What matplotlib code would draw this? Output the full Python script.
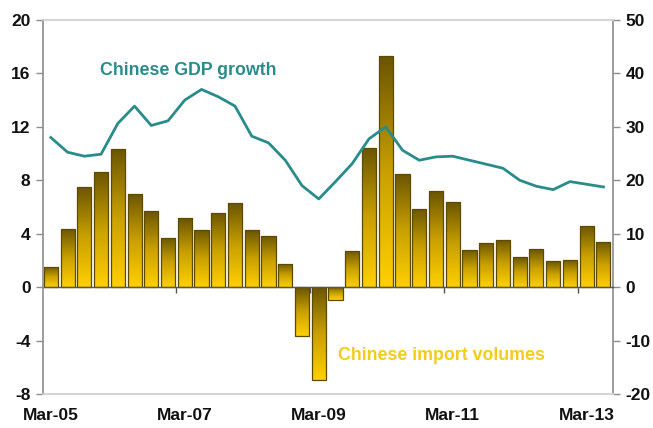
import numpy as np
import matplotlib
matplotlib.use("Agg")
import matplotlib.pyplot as plt
from matplotlib.colors import LinearSegmentedColormap

plt.rcParams['font.family'] = ['Liberation Sans', 'DejaVu Sans']
plt.rcParams['font.weight'] = 'bold'
plt.rcParams['axes.unicode_minus'] = False

# Quarterly data, Mar-05 .. Jun-13
quarters = ["Mar-05", "Jun-05", "Sep-05", "Dec-05",
            "Mar-06", "Jun-06", "Sep-06", "Dec-06",
            "Mar-07", "Jun-07", "Sep-07", "Dec-07",
            "Mar-08", "Jun-08", "Sep-08", "Dec-08",
            "Mar-09", "Jun-09", "Sep-09", "Dec-09",
            "Mar-10", "Jun-10", "Sep-10", "Dec-10",
            "Mar-11", "Jun-11", "Sep-11", "Dec-11",
            "Mar-12", "Jun-12", "Sep-12", "Dec-12",
            "Mar-13", "Jun-13"]

# Chinese real GDP growth, % y/y (left axis)
gdp_growth = [11.2, 10.1, 9.8, 9.95, 12.25, 13.55, 12.1, 12.45,
              14.0, 14.8, 14.25, 13.55, 11.3, 10.8, 9.5, 7.6,
              6.6, 7.9, 9.25, 11.1, 12.0, 10.25, 9.5, 9.75,
              9.8, 9.5, 9.2, 8.9, 8.0, 7.55, 7.3, 7.9,
              7.7, 7.5]

# Chinese import volumes, % y/y (right axis)
import_volumes = [3.75, 10.9, 18.75, 21.6, 25.9, 17.5, 14.2, 9.2,
                  12.9, 10.75, 13.9, 15.7, 10.6, 9.6, 4.4, -9.1,
                  -17.3, -2.5, 6.8, 26.1, 43.2, 21.2, 14.7, 17.9,
                  15.9, 7.0, 8.3, 8.8, 5.6, 7.1, 4.8, 5.1,
                  11.5, 8.5]

x_labels = ["Mar-05", "Mar-07", "Mar-09", "Mar-11", "Mar-13"]

x = np.arange(len(quarters))
label_pos = [quarters.index(q) for q in x_labels]

fig = plt.figure(figsize=(6.53, 4.28), dpi=100)
ax = fig.add_axes([0.066, 0.0794, 0.873, 0.874])
ax2 = ax.twinx()

# line axis drawn above the bar axis
ax.set_zorder(ax2.get_zorder() + 1)
ax.patch.set_visible(False)

light = "#d4d4d4"
mid = "#8c8c8c"

# Bars with a vertical dark-to-gold gradient
cmap = LinearSegmentedColormap.from_list("gold", ["#6a5500", "#c9a000", "#ffd000"])
grad = np.linspace(0, 1, 256).reshape(-1, 1)
bars = ax2.bar(x, import_volumes, width=0.84, facecolor="none",
               edgecolor="#5c4a00", linewidth=0.9, zorder=3)
for b in bars:
    x0, y0 = b.get_x(), b.get_y()
    w, h = b.get_width(), b.get_height()
    top, bot = max(y0, y0 + h), min(y0, y0 + h)
    im = ax2.imshow(grad, cmap=cmap, aspect="auto", origin="upper",
                    extent=[x0, x0 + w, bot, top], zorder=2)
    im.set_clip_path(b)

ax2.set_ylim(-20, 50)
ax2.set_yticks(np.arange(-20, 51, 10))

# GDP line
ax.plot(x, gdp_growth, color="#2a8c8a", linewidth=2.0, zorder=5)
ax.set_ylim(-8, 20)
ax.set_yticks(np.arange(-8, 21, 4))
ax.set_xlim(-0.46, 33.58)
ax2.set_xlim(-0.46, 33.58)

ax.set_xticks(label_pos)
ax.set_xticklabels(x_labels)
ax.tick_params(axis="x", length=0, pad=10, labelsize=12.5, labelcolor="#111111")
ax.tick_params(axis="y", direction="out", length=5, width=1, color=mid,
               labelsize=12.5, labelcolor="#111111", pad=4)
ax2.tick_params(axis="y", direction="out", length=5, width=1, color=mid,
                labelsize=12.5, labelcolor="#111111", pad=4)

for a in (ax, ax2):
    a.spines["top"].set_color(light)
    a.spines["bottom"].set_color(light)
    a.spines["left"].set_color(mid)
    a.spines["right"].set_color(mid)
    for s in a.spines.values():
        s.set_linewidth(1.2)
ax2.spines["left"].set_visible(False)
ax.spines["right"].set_visible(False)

# zero axis with tick marks between the labelled quarters
zero_frac = (0 - (-8)) / (20 - (-8))
zax = ax.secondary_xaxis(zero_frac)
zax.set_xticks([p - 0.5 for p in label_pos[1:]])
zax.set_xticklabels([])
zax.tick_params(axis="x", direction="out", length=4, width=1, color="#555555")
zax.spines["bottom"].set_color("#555555")
zax.spines["bottom"].set_linewidth(1.0)

ax.text(0.1, 0.864, "Chinese GDP growth", transform=ax.transAxes,
        color="#2a8c8a", fontsize=12.8, fontweight="bold", ha="left", va="center")
ax.text(0.518, 0.104, "Chinese import volumes", transform=ax.transAxes,
        color="#f4cb1c", fontsize=12.8, fontweight="bold", ha="left", va="center")

fig.savefig("out.png", dpi=100)
